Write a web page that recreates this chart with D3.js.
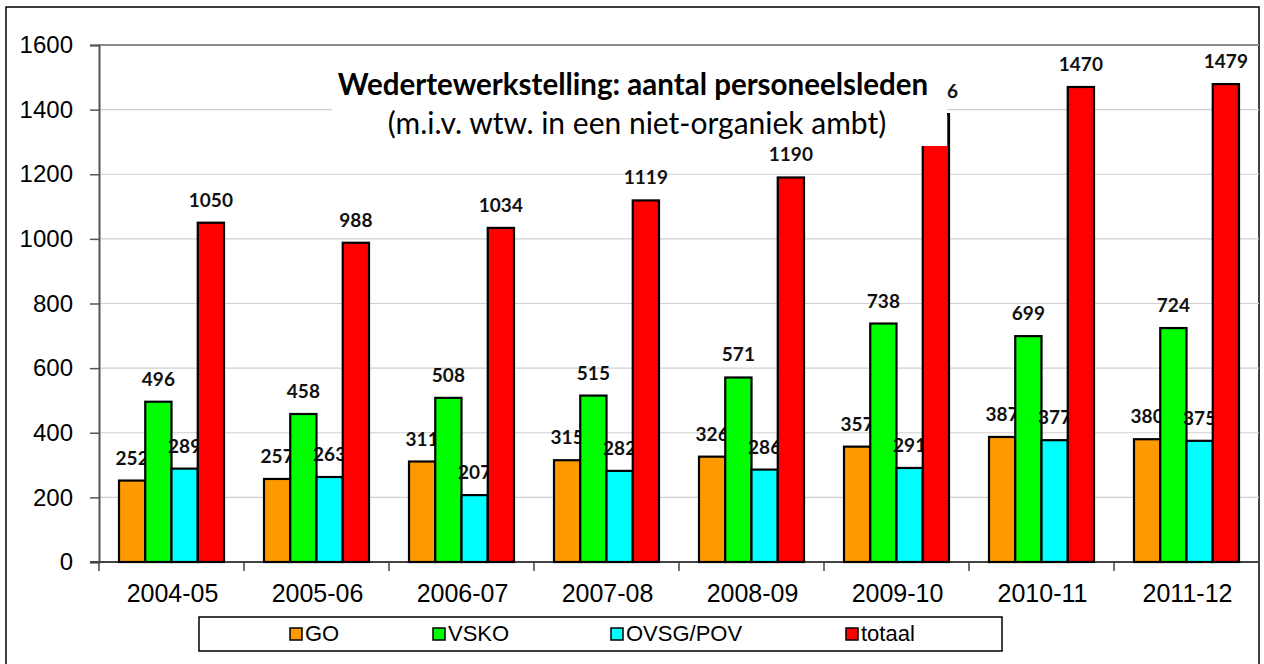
<!DOCTYPE html>
<html>
<head>
<meta charset="utf-8">
<script src="https://cdn.jsdelivr.net/npm/d3@7"></script>
<style>
  html, body { margin: 0; padding: 0; background: #fff; }
  svg { display: block; }
</style>
</head>
<body>
<svg id="chart" width="1264" height="664"></svg>
<script>
// school years on the x axis
const years = ["2004-05", "2005-06", "2006-07", "2007-08", "2008-09", "2009-10", "2010-11", "2011-12"]
const seriesNames = ["GO", "VSKO", "OVSG/POV", "totaal"]
const goValues = [252, 257, 311, 315, 326, 357, 387, 380]
const vskoValues = [496, 458, 508, 515, 571, 738, 699, 724]
const ovsgValues = [289, 263, 207, 282, 286, 291, 377, 375]
const totaalValues = [1050, 988, 1034, 1119, 1190, 1386, 1470, 1479]
const yTicks = [0, 200, 400, 600, 800, 1000, 1200, 1400, 1600]
const colors = ["#ff9900", "#00ff00", "#00ffff", "#ff0000"]

const series = [goValues, vskoValues, ovsgValues, totaalValues]

const width = 1264, height = 664
const plot = { left: 99, right: 1259, top: 45, bottom: 562 }

const svg = d3.select("#chart")

// outer chart border
svg.append("rect")
    .attr("x", 6).attr("y", 7)
    .attr("width", 1253).attr("height", 680)
    .attr("fill", "#fff")
    .attr("stroke", "#000").attr("stroke-width", 1.5)

const x0 = d3.scaleBand().domain(years).range([plot.left, plot.right])
const x1 = d3.scaleBand().domain(seriesNames).range([20, 125])
const y = d3.scaleLinear().domain([0, 1600]).range([plot.bottom, plot.top])

// gridlines
svg.append("g")
    .selectAll("line")
    .data(yTicks.filter((t) => t > 0))
    .enter()
    .append("line")
    .attr("x1", plot.left).attr("x2", plot.right)
    .attr("y1", (d) => y(d)).attr("y2", (d) => y(d))
    .attr("stroke", (d) => (d === 1600 ? "#8c8c8c" : "#d0d0d0"))
    .attr("stroke-width", (d) => (d === 1600 ? 2 : 1.2))

// y axis
const yAxis = svg.append("g")
    .attr("transform", `translate(${plot.left},0)`)
    .call(d3.axisLeft(y).tickValues(yTicks).tickSize(9).tickPadding(17).tickFormat(d3.format("d")))
yAxis.select(".domain").attr("stroke", "#555").attr("stroke-width", 2)
yAxis.selectAll(".tick line").attr("stroke", "#555").attr("stroke-width", 1.5)
yAxis.selectAll("text")
    .attr("font-family", "Liberation Sans, Arial, sans-serif")
    .attr("font-size", 24).attr("fill", "#000")

// x axis: ticks between categories
const xg = svg.append("g")
xg.append("line")
    .attr("x1", plot.left - 9).attr("x2", plot.right)
    .attr("y1", plot.bottom).attr("y2", plot.bottom)
    .attr("stroke", "#444").attr("stroke-width", 2)
xg.selectAll("line.tk")
    .data(years)
    .enter()
    .append("line")
    .attr("class", "tk")
    .attr("x1", (d) => x0(d)).attr("x2", (d) => x0(d))
    .attr("y1", plot.bottom).attr("y2", plot.bottom + 9)
    .attr("stroke", "#444").attr("stroke-width", 1.5)
xg.selectAll("text")
    .data(years)
    .enter()
    .append("text")
    .attr("x", (d) => x0(d) + x0.bandwidth() / 2 + 1)
    .attr("y", 602)
    .attr("text-anchor", "middle")
    .attr("font-family", "Liberation Sans, Arial, sans-serif")
    .attr("font-size", 25)
    .text((d) => d)

// bars and data labels, one series at a time so later bars cover earlier labels
series.forEach((vals, si) => {
    const g = svg.append("g")
    g.selectAll("rect")
        .data(vals)
        .enter()
        .append("rect")
        .attr("x", (d, i) => x0(years[i]) + x1(seriesNames[si]))
        .attr("y", (d) => y(d))
        .attr("width", x1.bandwidth())
        .attr("height", (d) => y(0) - y(d))
        .attr("fill", colors[si])
        .attr("stroke", "#000").attr("stroke-width", 2.2)
    g.selectAll("text")
        .data(vals)
        .enter()
        .append("text")
        .attr("x", (d, i) => x0(years[i]) + x1(seriesNames[si]) + x1.bandwidth() / 2)
        .attr("y", (d) => y(d) - 16)
        .attr("text-anchor", "middle")
        .attr("font-family", "Lato, Open Sans, sans-serif")
        .attr("font-weight", "bold")
        .attr("font-size", 19)
        .attr("fill", "#111")
        .text((d) => d)
})

// title box sits over the plot, with a white fill
svg.append("rect")
    .attr("x", 332).attr("y", 52)
    .attr("width", 615).attr("height", 94)
    .attr("fill", "#fff")
svg.append("text")
    .attr("x", 633).attr("y", 95)
    .attr("text-anchor", "middle")
    .attr("font-family", "Lato, Open Sans, sans-serif")
    .attr("font-weight", "bold")
    .attr("font-size", 29.5)
    .text("Wedertewerkstelling: aantal personeelsleden")
svg.append("text")
    .attr("x", 637).attr("y", 134)
    .attr("text-anchor", "middle")
    .attr("font-family", "Lato, Open Sans, sans-serif")
    .attr("font-size", 30)
    .text("(m.i.v. wtw. in een niet-organiek ambt)")

// legend
const legendX = [290, 433, 611, 846]
const legend = svg.append("g")
legend.append("rect")
    .attr("x", 199).attr("y", 617)
    .attr("width", 803).attr("height", 34)
    .attr("fill", "#fff")
    .attr("stroke", "#000").attr("stroke-width", 1.5)
const item = legend.selectAll("g.item")
    .data(seriesNames)
    .enter()
    .append("g")
    .attr("class", "item")
    .attr("transform", (d, i) => `translate(${legendX[i]},628)`)
item.append("rect")
    .attr("width", 12).attr("height", 12)
    .attr("fill", (d, i) => colors[i])
    .attr("stroke", "#000").attr("stroke-width", 1.5)
item.append("text")
    .attr("x", 15).attr("y", 13)
    .attr("font-family", "Liberation Sans, Arial, sans-serif")
    .attr("font-size", 22)
    .text((d) => d)
</script>
</body>
</html>
